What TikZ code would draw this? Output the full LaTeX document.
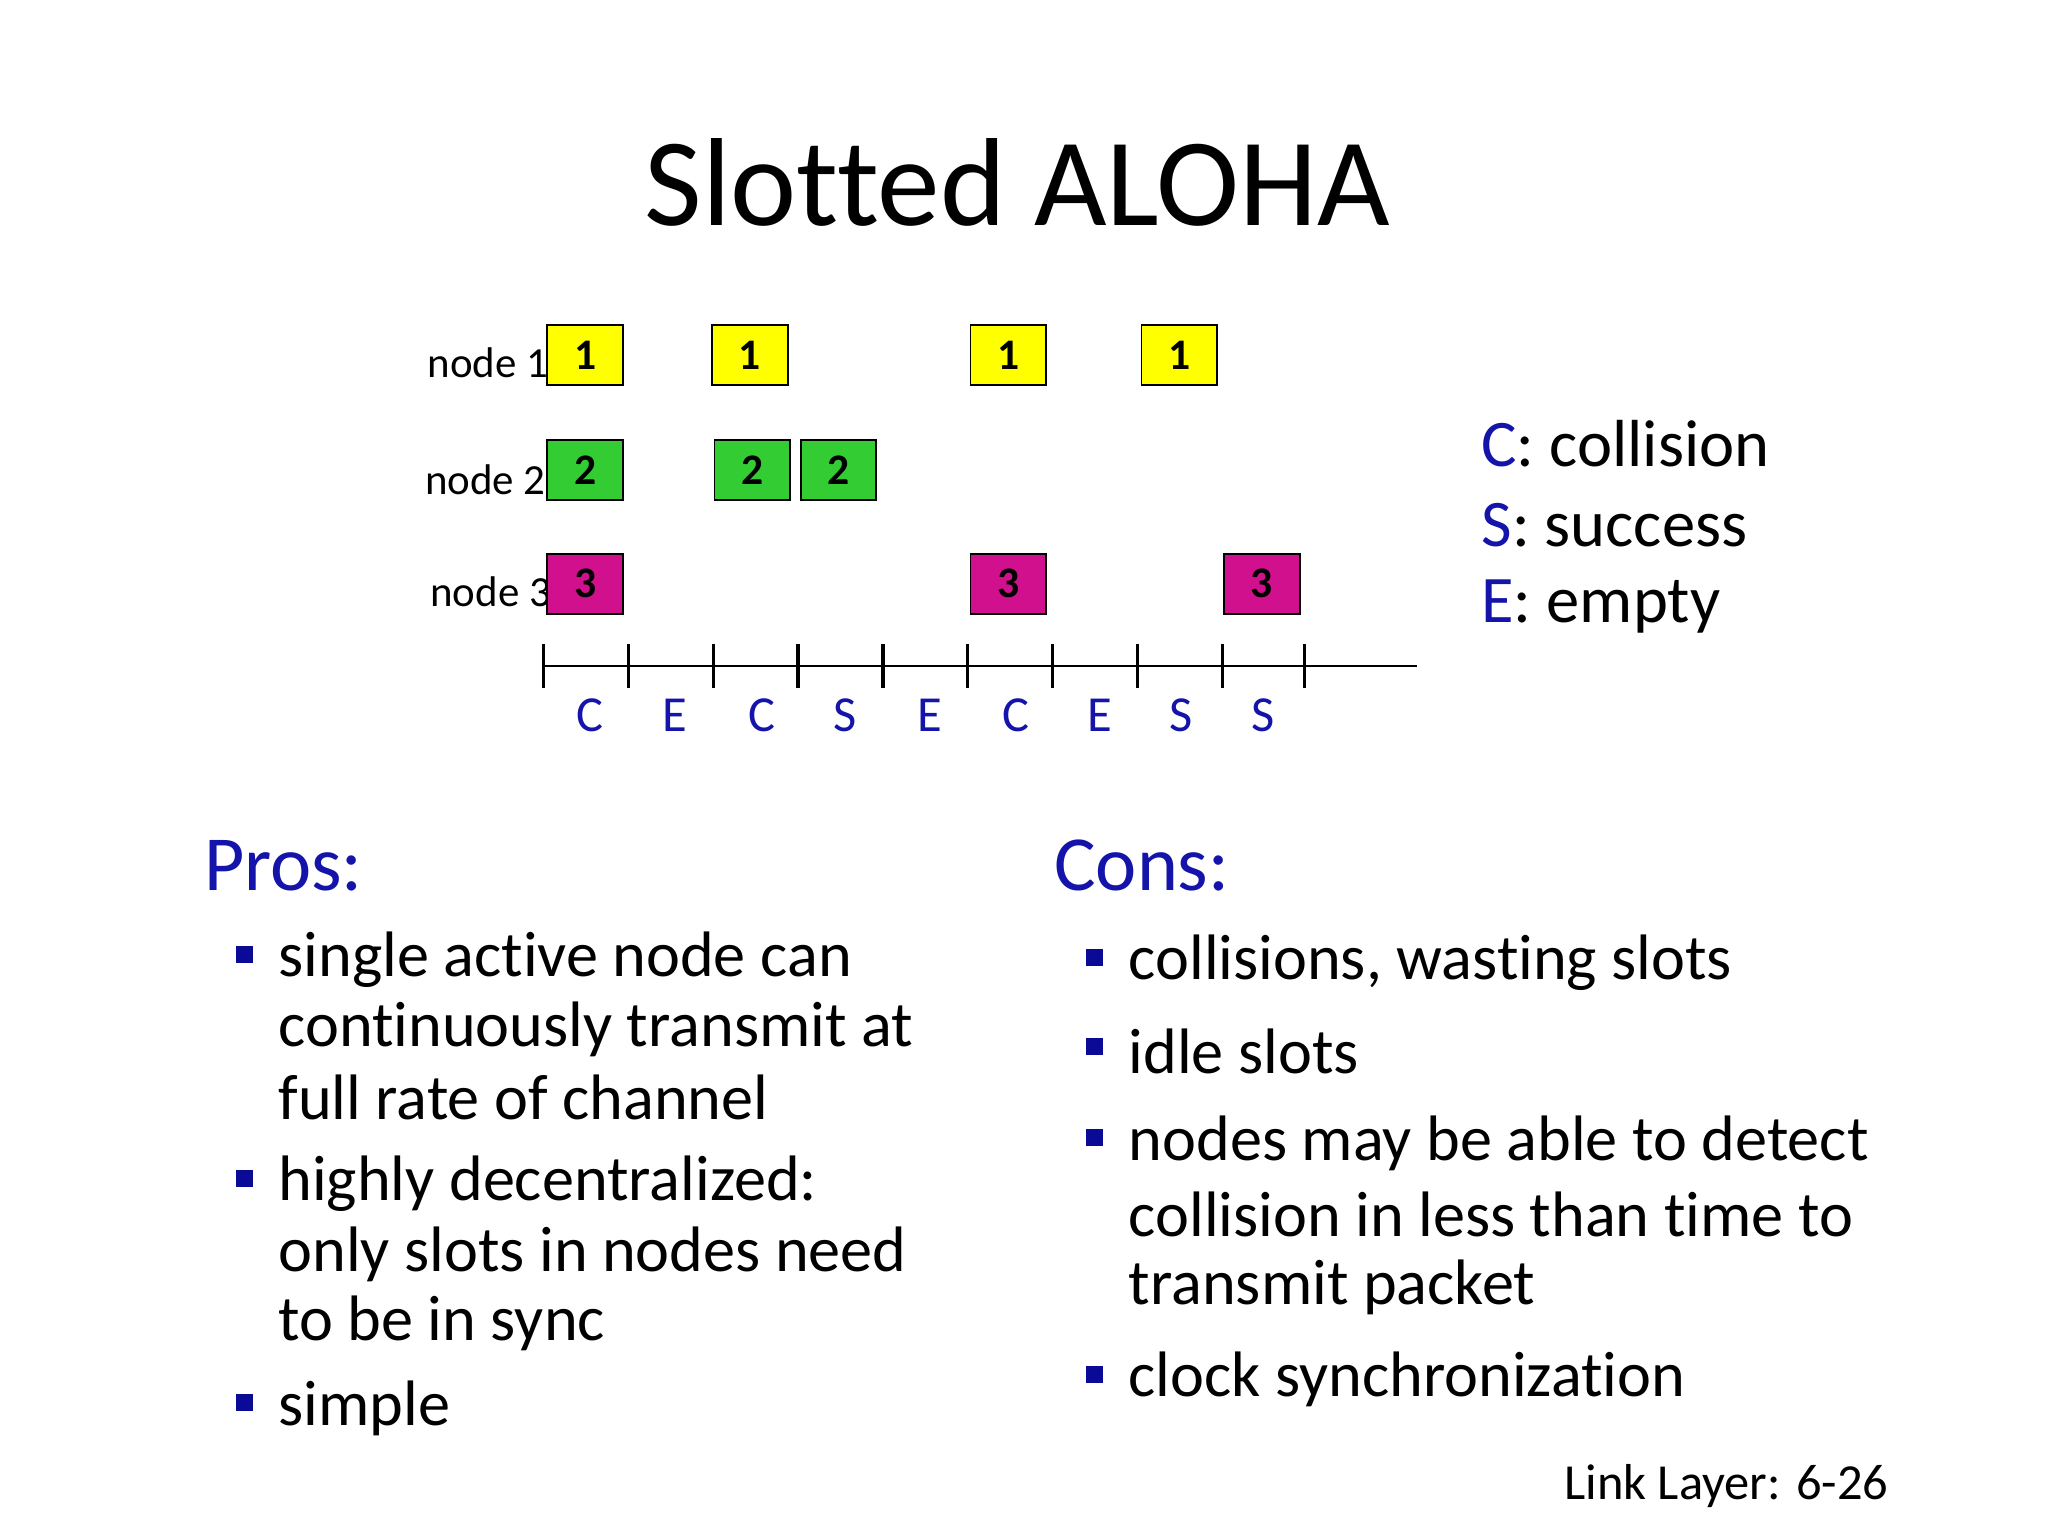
\documentclass[tikz,border=0pt]{standalone}
\usepackage{fontspec}
\setmainfont{Carlito}[Ligatures={NoCommon}]
\definecolor{myblue}{RGB}{20,20,170}
\definecolor{bul}{RGB}{10,10,150}
\definecolor{ye}{RGB}{255,255,0}
\definecolor{gr}{RGB}{51,204,51}
\definecolor{mg}{RGB}{208,16,140}
\begin{document}
\begin{tikzpicture}[x=0.02cm,y=-0.02cm,
 pk/.style={draw=black,line width=0.8pt,minimum width=1.16cm,minimum height=0.92cm,inner sep=0pt,font=\fontsize{19}{19}\selectfont\bfseries},
 nl/.style={anchor=east,font=\fontsize{18.7}{19}\selectfont},
 ax/.style={font=\fontsize{22}{22}\selectfont,text=myblue},
 lg/.style={anchor=west,font=\fontsize{29}{29}\selectfont},
 hd/.style={anchor=west,font=\fontsize{34}{34}\selectfont,text=myblue},
 bt/.style={anchor=west,font=\fontsize{28}{28}\selectfont},
 bu/.style={fill=bul,minimum size=0.26cm,inner sep=0pt}]
\useasboundingbox (0,0) rectangle (1568,1176);
\fill[white] (0,0) rectangle (1568,1176);
\node (title) at (779,140) {\fontsize{54.6}{55}\selectfont Slotted ALOHA};
\node[nl] (n1) at (426,278) {node 1};
\node[nl] (n2) at (424,367) {node 2};
\node[nl] (n3) at (428,453) {node 3};
\foreach \x [count=\i] in {448,574,772,903} \node[pk,fill=ye] (a\i) at (\x,272) {1};
\foreach \x [count=\i] in {448,576,642} \node[pk,fill=gr] (b\i) at (\x,360) {2};
\foreach \x [count=\i] in {448,772,966} \node[pk,fill=mg] (c\i) at (\x,447) {3};
\coordinate (s) at (416,510); \coordinate (e) at (1085,510);
\draw[line width=0.8pt] (s) -- (e);
\foreach \x in {416,481,546,611,676,741,806,871,936,999} \draw[line width=1.4pt] (\x,493) -- (\x,527);
\foreach \x/\l in {452/C,517/E,583/C,647/S,712/E,778/C,842/E,904/S,967/S} \node[ax] at (\x,548) {\l};
\node[lg] (lc) at (1128,340) {\textcolor{myblue}{C}: collision};
\node[lg] (ls) at (1128,402) {\textcolor{myblue}{S}: success};
\node[lg] (le) at (1128,464) {\textcolor{myblue}{E}: empty};
\node[hd] (pros) at (150,663) {Pros:};
\node[hd] (cons) at (801,663) {Cons:};
\foreach \y in {731,902,1074} \node[bu] at (187,\y) {};
\foreach \y/\t in {735/single active node can,788/continuously transmit at,840/full rate of channel,906/highly decentralized:,960/only slots in nodes need,1013/to be in sync,1078/simple} \node[bt] at (207,\y) {\t};
\foreach \y in {733,801,871,1052} \node[bu] at (838,\y) {};
\foreach \y/\t in {737/{collisions, wasting slots},805/idle slots,875/nodes may be able to detect,930/collision in less than time to,986/transmit packet,1056/clock synchronization} \node[bt] at (858,\y) {\t};
\node[anchor=east,font=\fontsize{22}{22}\selectfont] (ft) at (1452,1138) {Link Layer: 6-26};
\end{tikzpicture}
\end{document}
